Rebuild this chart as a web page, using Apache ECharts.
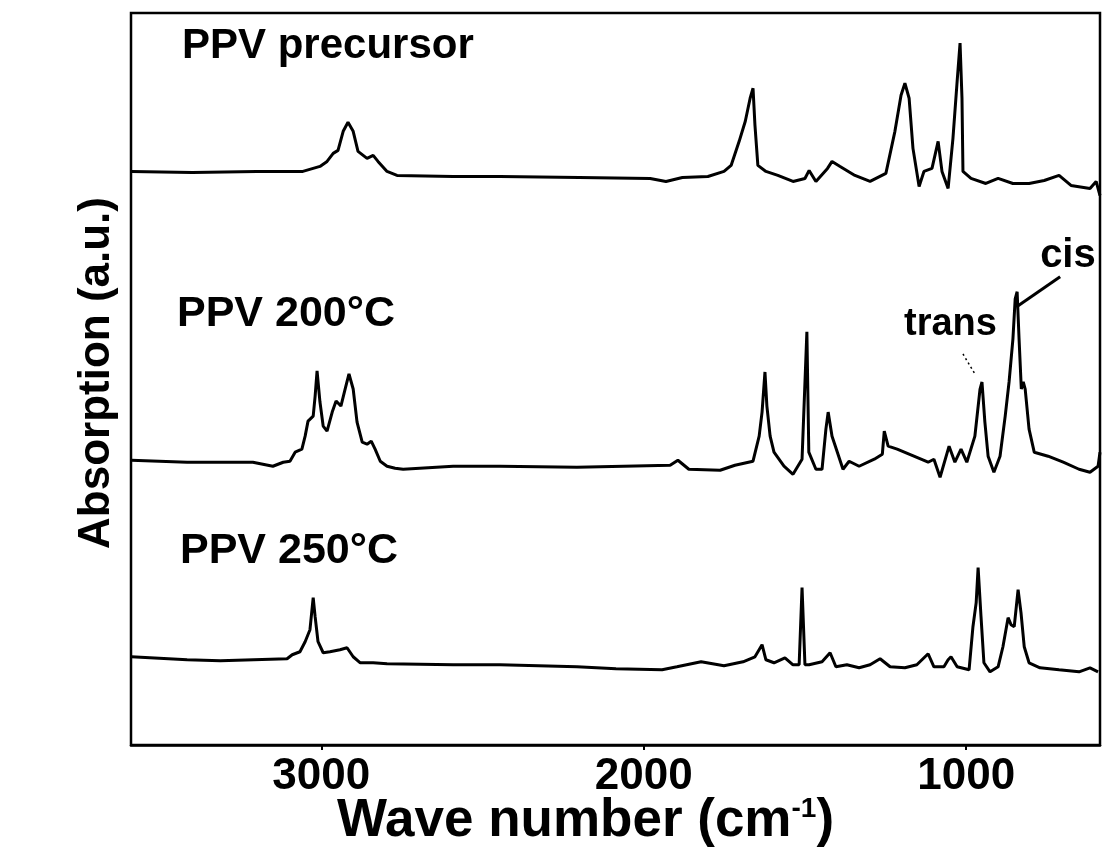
<!DOCTYPE html>
<html><head><meta charset="utf-8">
<script src="https://cdn.jsdelivr.net/npm/echarts@6/dist/echarts.min.js"></script>
<style>html,body{margin:0;padding:0;background:#fff}#c{width:1105px;height:853px}</style>
</head><body><div id="c"></div>
<script>
// x tick labels (wave number, cm-1)
const xTicks = [1000, 2000, 3000];
// series names
const seriesNames = ['PPV precursor', 'PPV 200°C', 'PPV 250°C'];
// [wave number, absorption (a.u., offset stacked)]
const precursor = [[3589,572],[3400,571],[3200,572],[3057,572],[3004,577],[2982,582],[2963,590],[2948,593],[2932,612],[2917,621],[2901,612],[2886,592],[2858,585],[2839,588],[2824,582],[2796,572],[2765,568],[2591,567],[2446,567],[2200,566],[1980,565],[1931,562],[1880,566],[1801,567],[1751,572],[1729,578],[1704,602],[1685,622],[1670,645],[1661,655],[1655,618],[1646,578],[1621,572],[1584,568],[1537,562],[1500,565],[1487,573],[1466,562],[1430,575],[1416,582],[1391,577],[1345,568],[1298,562],[1249,570],[1221,612],[1202,648],[1190,660],[1177,645],[1165,595],[1146,557],[1131,572],[1106,575],[1087,602],[1075,572],[1056,555],[1041,605],[1028,662],[1019,700],[1013,645],[1010,572],[985,565],[939,560],[901,565],[855,560],[805,560],[758,563],[712,568],[675,558],[616,555],[597,562],[585,548]];
const ppv200 = [[3589,284],[3416,282],[3212,282],[3150,278],[3118,282],[3097,283],[3081,292],[3060,295],[3050,308],[3041,323],[3025,328],[3019,348],[3013,373],[3004,342],[2994,318],[2982,313],[2966,332],[2954,343],[2939,338],[2926,355],[2914,370],[2901,355],[2889,322],[2873,302],[2858,300],[2845,303],[2833,295],[2817,283],[2796,278],[2771,276],[2746,275],[2591,278],[2446,278],[2207,277],[1918,279],[1894,284],[1860,275],[1763,274],[1717,279],[1661,283],[1642,308],[1633,332],[1624,372],[1618,338],[1608,308],[1596,292],[1565,278],[1537,270],[1509,285],[1494,412],[1488,292],[1466,275],[1447,275],[1435,315],[1428,332],[1416,308],[1382,275],[1363,283],[1332,278],[1285,285],[1260,290],[1254,313],[1242,298],[1214,295],[1177,290],[1140,285],[1118,282],[1100,285],[1081,267],[1053,298],[1035,282],[1016,295],[998,282],[973,308],[957,355],[951,362],[942,322],[932,288],[914,272],[895,288],[879,328],[867,362],[855,405],[848,445],[842,452],[836,405],[829,355],[823,362],[817,355],[805,315],[789,292],[746,288],[699,282],[650,275],[616,272],[591,278],[585,292]];
const ppv250 = [[3589,88],[3416,85],[3313,84],[3106,86],[3090,90],[3066,93],[3050,103],[3035,115],[3025,147],[3019,128],[3010,103],[2994,92],[2973,93],[2942,95],[2920,97],[2901,88],[2879,82],[2839,82],[2796,81],[2591,80],[2446,80],[2207,78],[2086,76],[1943,75],[1897,78],[1822,83],[1751,79],[1692,83],[1655,88],[1633,100],[1621,85],[1596,82],[1562,87],[1537,80],[1518,80],[1509,157],[1500,80],[1487,80],[1447,83],[1422,92],[1404,78],[1370,80],[1332,77],[1298,80],[1267,86],[1236,78],[1190,77],[1153,80],[1118,91],[1100,78],[1069,78],[1056,85],[1047,88],[1028,78],[991,75],[979,118],[969,142],[963,177],[954,128],[945,82],[926,73],[901,78],[886,98],[870,127],[861,120],[851,118],[839,155],[830,132],[820,98],[805,82],[771,77],[712,75],[650,73],[616,77],[591,73]];
// annotated peaks
const transPeak = [951, 362];
const cisPeak = [842, 452];

const FONT = '"Liberation Sans", Arial, Helvetica, sans-serif';
const chart = echarts.init(document.getElementById('c'), null, {renderer: 'canvas'});
const mk = (name, data) => ({
  name, type: 'line', data, symbol: 'none', showSymbol: false,
  lineStyle: {color: '#000', width: 3}, z: 3, silent: true
});
chart.setOption({
  animation: false,
  backgroundColor: '#fff',
  grid: {left: 131, right: 5, top: 13, bottom: 108, show: true, borderColor: '#000', borderWidth: 2.5,
         containLabel: false, outerBoundsMode: 'none'},
  xAxis: {
    type: 'value', inverse: true, min: 585, max: 3590,
    axisLine: {show: true, lineStyle: {color: '#000', width: 2.5}},
    axisTick: {show: true, customValues: xTicks, length: 5, lineStyle: {color: '#000', width: 2}},
    axisLabel: {customValues: xTicks, formatter: v => String(v), color: '#000', fontSize: 44, fontWeight: 'bold', fontFamily: FONT, margin: 10},
    splitLine: {show: false},
    name: 'Wave number (cm{sup|-1})', nameLocation: 'middle', nameGap: 50, nameMoveOverlap: false,
    nameTextStyle: {
      color: '#000', fontSize: 53, fontWeight: 'bold', fontFamily: FONT, padding: [0, 60, 0, 0],
      rich: {sup: {fontSize: 28, fontWeight: 'bold', fontFamily: FONT, color: '#000', verticalAlign: 'top', padding: [0, 0, 24, 0]}}
    }
  },
  yAxis: {
    type: 'value', min: 0, max: 730,
    axisLine: {show: false}, axisTick: {show: false}, axisLabel: {show: false}, splitLine: {show: false},
    name: 'Absorption (a.u.)', nameLocation: 'middle', nameGap: 12, nameRotate: 90,
    nameTextStyle: {color: '#000', fontSize: 44, fontWeight: 'bold', fontFamily: FONT, padding: [0, 0, 0, 12]}
  },
  series: [mk(seriesNames[0], precursor), mk(seriesNames[1], ppv200), mk(seriesNames[2], ppv250)]
});

const tp = chart.convertToPixel({gridIndex: 0}, transPeak);
const cp = chart.convertToPixel({gridIndex: 0}, cisPeak);
const f = s => 'bold ' + s + 'px ' + FONT;
chart.setOption({
  graphic: [
    {type: 'text', left: 182, top: 25, style: {text: seriesNames[0], font: f(42), fill: '#000'}},
    {type: 'text', left: 177, top: 293, style: {text: seriesNames[1], font: f(43), fill: '#000'}},
    {type: 'text', left: 180, top: 530, style: {text: seriesNames[2], font: f(43), fill: '#000'}},
    {type: 'text', x: tp[0] - 78, y: tp[1] - 76, style: {text: 'trans', font: f(38), fill: '#000'}},
    {type: 'text', x: cp[0] + 23, y: cp[1] - 56, style: {text: 'cis', font: f(40), fill: '#000'}},
    {type: 'line', shape: {x1: tp[0] - 19, y1: tp[1] - 28, x2: tp[0] - 7, y2: tp[1] - 8}, style: {stroke: '#000', lineWidth: 1.5, lineDash: [2, 3]}},
    {type: 'line', shape: {x1: cp[0] + 1, y1: cp[1] + 14, x2: cp[0] + 43, y2: cp[1] - 15}, style: {stroke: '#000', lineWidth: 3}}
  ]
});
</script>
</body></html>
